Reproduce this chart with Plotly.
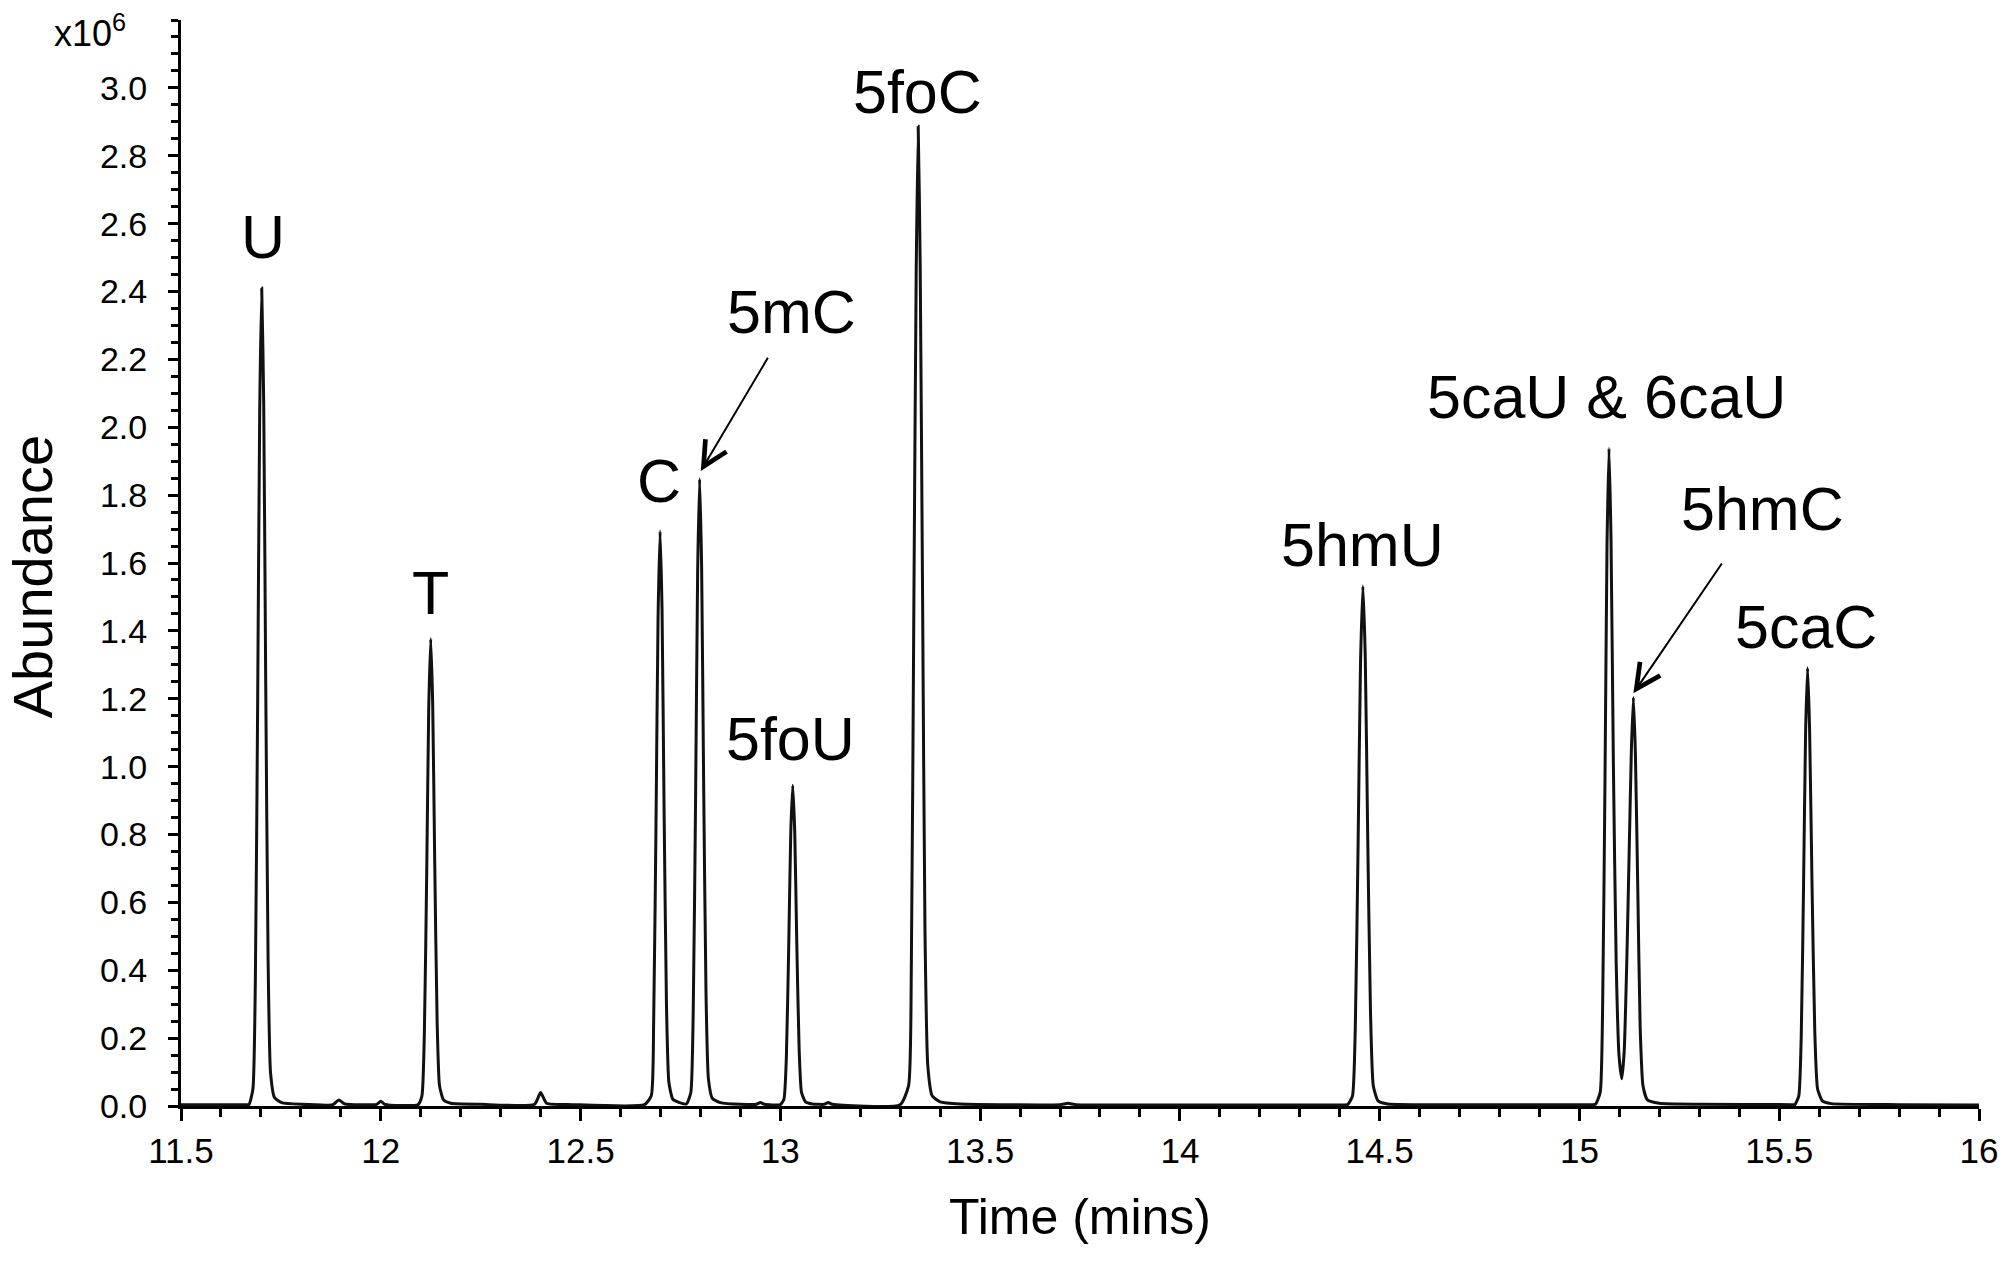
import plotly.graph_objects as go

# chromatogram trace (abundance in units of 10^6)
time_min = [
    11.50, 11.60, 11.66,
    # U
    11.670, 11.680, 11.686, 11.692, 11.697, 11.702, 11.707, 11.712, 11.718, 11.724, 11.734, 11.752, 11.80,
    11.88, 11.895, 11.91, 11.99, 12.00, 12.01,
    # T
    12.093, 12.103, 12.109, 12.115, 12.120, 12.125, 12.130, 12.135, 12.141, 12.147, 12.157, 12.175, 12.25,
    12.385, 12.400, 12.415, 12.48,
    # C
    12.660, 12.677, 12.683, 12.689, 12.694, 12.699, 12.704, 12.709, 12.715, 12.721, 12.731, 12.748, 12.765,
    # 5mC
    12.776, 12.782, 12.788, 12.793, 12.798, 12.803, 12.808, 12.814, 12.820, 12.830, 12.850, 12.90,
    12.94, 12.95, 12.96,
    # 5foU
    13.000, 13.009, 13.015, 13.021, 13.026, 13.031, 13.036, 13.041, 13.047, 13.053, 13.063, 13.08,
    13.11, 13.12, 13.13,
    # 5foC
    13.300, 13.321, 13.328, 13.334, 13.340, 13.345, 13.350, 13.356, 13.362, 13.369, 13.380, 13.40, 13.45,
    13.70, 13.72, 13.74, 14.00, 14.40,
    # 5hmU
    14.420, 14.432, 14.439, 14.446, 14.452, 14.458, 14.464, 14.470, 14.477, 14.484, 14.496, 14.52, 14.80, 15.03,
    # 5caU & 6caU / 5hmC
    15.040, 15.052, 15.058, 15.064, 15.069, 15.074, 15.079, 15.085, 15.092, 15.099, 15.106,
    15.112, 15.119, 15.125, 15.130, 15.135, 15.140, 15.146, 15.152, 15.159, 15.170, 15.20, 15.30, 15.53,
    # 5caC
    15.539, 15.549, 15.555, 15.561, 15.566, 15.571, 15.576, 15.582, 15.589, 15.596, 15.608, 15.63, 15.80, 16.00,
]
abundance = [
    0.004, 0.004, 0.004,
    0.004, 0.05, 0.36, 1.21, 2.05, 2.41, 2.07, 1.25, 0.43, 0.10, 0.025, 0.010, 0.005,
    0.004, 0.018, 0.006, 0.005, 0.014, 0.005,
    0.004, 0.03, 0.21, 0.69, 1.17, 1.377, 1.18, 0.72, 0.25, 0.06, 0.018, 0.008, 0.005,
    0.005, 0.040, 0.008, 0.004,
    0.004, 0.03, 0.25, 0.85, 1.44, 1.694, 1.46, 0.88, 0.30, 0.07, 0.02, 0.010, 0.006,
    0.04, 0.28, 0.92, 1.57, 1.848, 1.59, 0.96, 0.33, 0.08, 0.022, 0.010, 0.005,
    0.005, 0.010, 0.005,
    0.004, 0.02, 0.14, 0.47, 0.80, 0.945, 0.81, 0.49, 0.17, 0.04, 0.012, 0.006,
    0.005, 0.010, 0.005,
    0.004, 0.06, 0.43, 1.44, 2.45, 2.887, 2.48, 1.50, 0.52, 0.12, 0.03, 0.012, 0.006,
    0.004, 0.008, 0.004, 0.003, 0.003,
    0.004, 0.03, 0.23, 0.77, 1.30, 1.532, 1.32, 0.80, 0.28, 0.06, 0.015, 0.006, 0.004, 0.004,
    0.005, 0.04, 0.29, 0.97, 1.65, 1.938, 1.67, 1.00, 0.42, 0.15, 0.08,
    0.16, 0.45, 0.78, 1.05, 1.204, 1.04, 0.64, 0.23, 0.06, 0.018, 0.008, 0.005, 0.004,
    0.004, 0.03, 0.20, 0.66, 1.10, 1.291, 1.11, 0.66, 0.22, 0.05, 0.015, 0.007, 0.004, 0.003,
]

# peak labels: text, time, height of label centre
peak_names = ["U", "T", "C", "5mC", "5foU", "5foC", "5hmU", "5caU & 6caU", "5hmC", "5caC"]
label_t = [11.705, 12.125, 12.696, 13.029, 13.026, 13.343, 14.458, 15.067, 15.458, 15.567]
label_v = [2.56, 1.513, 1.841, 2.341, 1.08, 2.989, 1.652, 2.089, 1.758, 1.411]

# arrows for the crowded peaks: (tail time, tail value, head time, head value)
arrow_tail_t = [12.971, 15.359]
arrow_tail_v = [2.209, 1.603]
arrow_head_t = [12.801, 15.135]
arrow_head_v = [1.871, 1.216]

y_ticks = [0.0, 0.2, 0.4, 0.6, 0.8, 1.0, 1.2, 1.4, 1.6, 1.8, 2.0, 2.2, 2.4, 2.6, 2.8, 3.0]
x_ticks = [11.5, 12, 12.5, 13, 13.5, 14, 14.5, 15, 15.5, 16]

FONT = "Liberation Sans, Arial, sans-serif"

fig = go.Figure(
    go.Scatter(x=time_min, y=abundance, mode="lines", line=dict(color="#111111", width=3, shape="spline", smoothing=0.5),
               showlegend=False)
)

for name, t, v in zip(peak_names, label_t, label_v):
    fig.add_annotation(x=t, y=v, text=name, showarrow=False, xanchor="center", yanchor="middle",
                       font=dict(family=FONT, size=61, color="#000000"))

for tt, tv, ht, hv in zip(arrow_tail_t, arrow_tail_v, arrow_head_t, arrow_head_v):
    fig.add_annotation(x=ht, y=hv, ax=tt, ay=tv, xref="x", yref="y", axref="x", ayref="y", text="",
                       showarrow=True, arrowhead=5, arrowsize=2.4, arrowwidth=2, arrowcolor="#000000")

fig.add_annotation(x=(52 - 181) / 1800, y=0.99, xref="paper", yref="paper", text="x10<sup>6</sup>",
                   showarrow=False, xanchor="left", yanchor="middle",
                   font=dict(family=FONT, size=36, color="#000000"))

# y title placed as text so it can sit a little below the plot's middle, as in the original
fig.add_annotation(x=-0.0828, y=0.487, xref="paper", yref="paper", text="Abundance", textangle=-90,
                   showarrow=False, xanchor="center", yanchor="middle",
                   font=dict(family=FONT, size=56, color="#000000"))

fig.update_layout(
    width=2010,
    height=1268,
    margin=dict(l=181, r=29, t=20, b=162),
    paper_bgcolor="white",
    plot_bgcolor="white",
    font=dict(family=FONT, color="#000000", size=34),
    xaxis=dict(
        range=[11.5, 16],
        tickvals=x_ticks,
        ticktext=[f"{v:g}" for v in x_ticks],
        ticks="outside",
        ticklen=12,
        tickwidth=2.5,
        tickcolor="#000000",
        minor=dict(dtick=0.1, tick0=11.5, ticks="outside", ticklen=8, tickwidth=2.5, tickcolor="#000000"),
        showline=True,
        linecolor="#000000",
        linewidth=3,
        showgrid=False,
        zeroline=False,
        tickfont=dict(size=35),
        title=dict(text="Time (mins)", font=dict(size=50), standoff=30),
    ),
    yaxis=dict(
        range=[0, 3.2],
        tickvals=y_ticks,
        ticktext=[f"{v:.1f}" for v in y_ticks],
        ticks="outside",
        ticklen=10,
        tickwidth=2.5,
        tickcolor="#000000",
        ticklabelstandoff=14,
        minor=dict(dtick=0.05, tick0=0, ticks="outside", ticklen=7, tickwidth=2.5, tickcolor="#000000"),
        showline=True,
        linecolor="#000000",
        linewidth=3,
        showgrid=False,
        zeroline=False,
        tickfont=dict(size=34),
    ),
)

# the page body has a default 8px margin; drop it so the figure sits at the window origin
fig.write_html("out.html", config={"displayModeBar": False},
               post_script="document.body.style.margin='0';")
